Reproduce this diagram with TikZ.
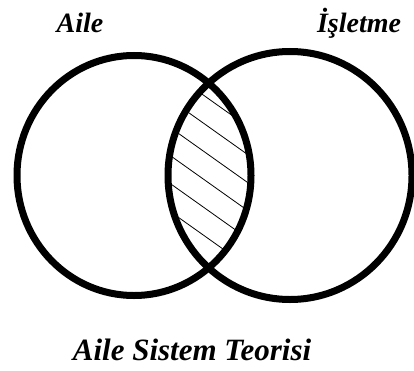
\documentclass[tikz,border=0pt]{standalone}
\usepackage{fontspec}
\setmainfont{Liberation Serif}
\usetikzlibrary{positioning}

\begin{document}
\begin{tikzpicture}[
        x=1pt, y=1pt,
        ring/.style={draw=black, line width=7pt},
        hatchline/.style={draw=black, line width=0.8pt},
        lbl/.style={font=\fontsize{28}{30}\selectfont\bfseries\itshape, anchor=base, inner sep=0pt},
        titlelbl/.style={font=\fontsize{31}{34}\selectfont\bfseries\itshape, anchor=base, inner sep=0pt}
      ]
        \useasboundingbox (0,0) rectangle (414,370);
        \coordinate (cAile) at (134,194.5);
        \coordinate (cIsletme) at (290,194.5);

        % hatched overlap
        \begin{scope}
          \clip (cAile) ellipse [x radius=117, y radius=120];
          \clip (cIsletme) ellipse [x radius=122, y radius=124];
          \foreach \c in {42,70,...,322}
            \draw[hatchline] (140,{389.9-\c}) -- (280,{290.5-\c});
        \end{scope}

        \draw[ring] (cAile) ellipse [x radius=117, y radius=120];
        \draw[ring] (cIsletme) ellipse [x radius=122, y radius=124];

        \node[lbl] (aile) at (80,337) {Aile};
        \node[lbl] (isletme) at (359,337) {İşletme};
        \node[titlelbl] (teori) at (192,10) {Aile Sistem Teorisi};
      \end{tikzpicture}
\end{document}
